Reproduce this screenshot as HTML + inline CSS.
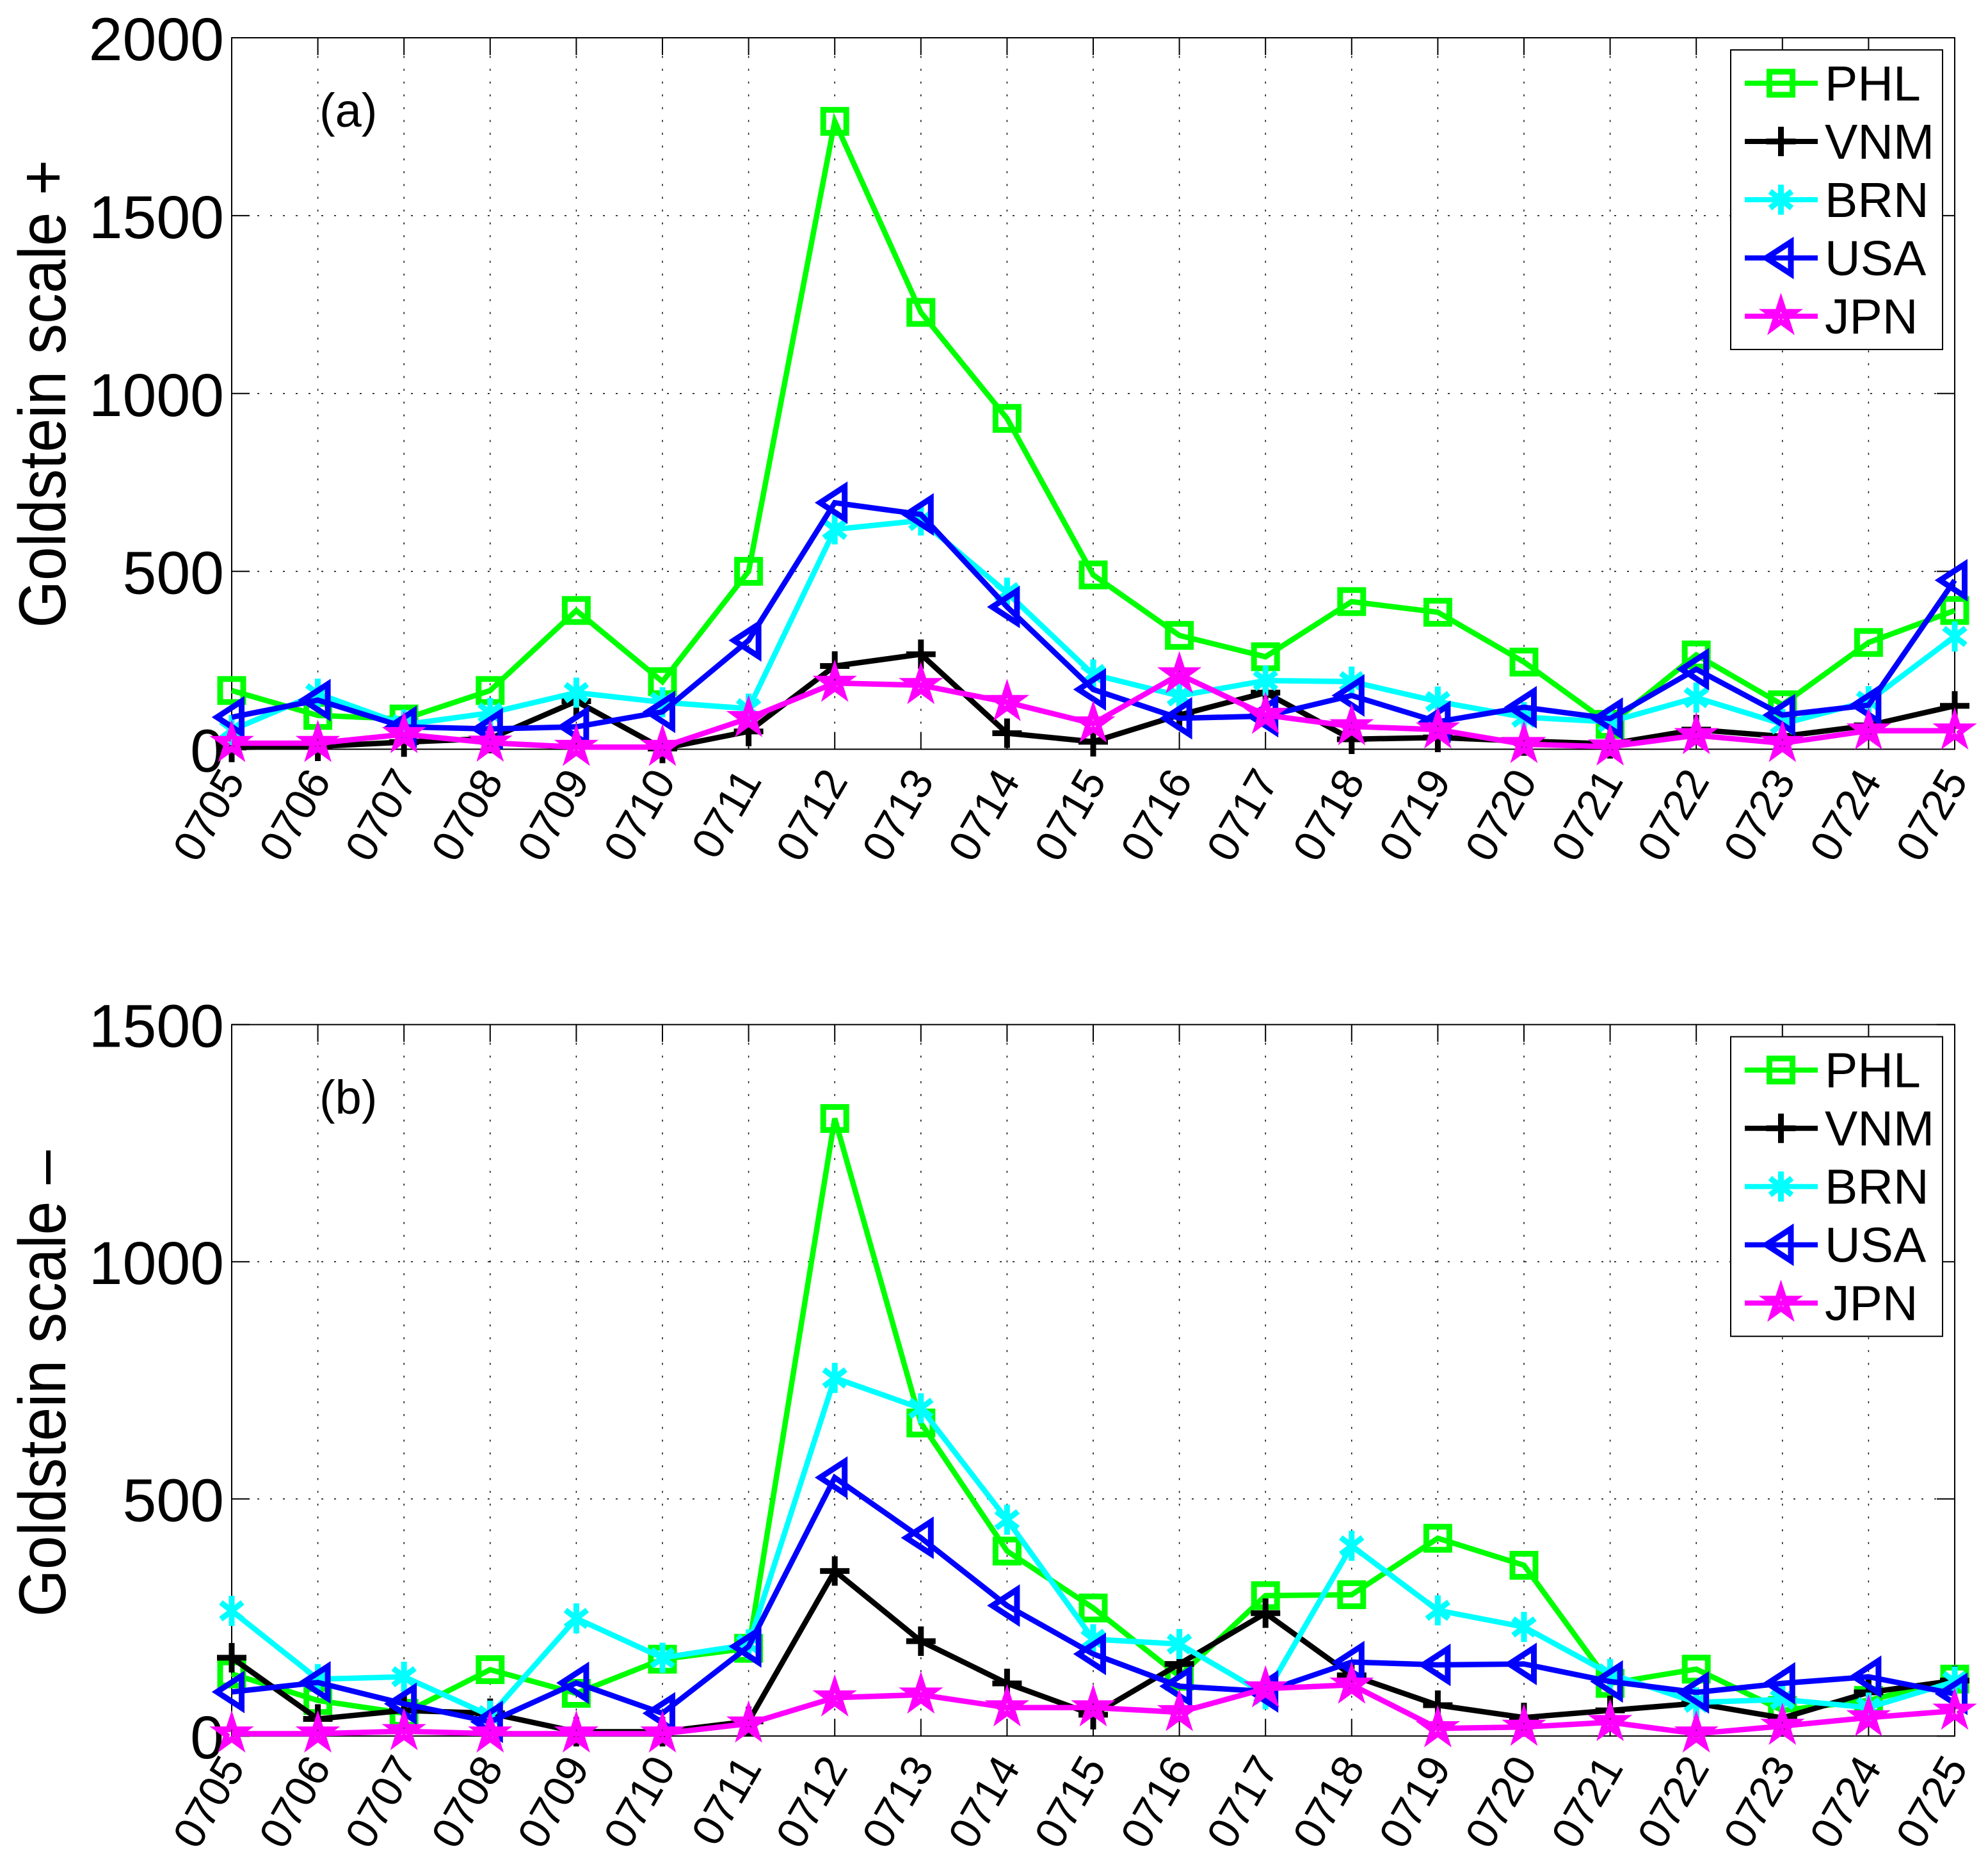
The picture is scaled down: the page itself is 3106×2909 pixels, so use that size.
<!DOCTYPE html>
<html lang="en">
<head>
<meta charset="utf-8">
<title>Goldstein scale by country</title>
<style>
html,body{margin:0;padding:0;background:#fff;}
svg{display:block;}
text{font-family:"Liberation Sans",Arial,sans-serif;fill:#000;}
</style>
</head>
<body>
<svg id="chart" xmlns="http://www.w3.org/2000/svg" width="3106" height="2909" viewBox="0 0 3106 2909">
  <rect x="0" y="0" width="3106" height="2909" fill="#fff"/>
  <g id="panel-a"></g>
  <g id="panel-b"></g>
  <text font-size="95" transform="translate(102,981) rotate(-90) scale(1,1.09)">Goldstein scale +</text>
  <text font-size="95" transform="translate(102,2526) rotate(-90) scale(1,1.09)">Goldstein scale –</text>
  <text font-size="74" x="499" y="198">(a)</text>
  <text font-size="74" x="499" y="1740">(b)</text>
</svg>
<script>
const categories = ['0705','0706','0707','0708','0709','0710','0711','0712','0713','0714','0715','0716','0717','0718','0719','0720','0721','0722','0723','0724','0725'];
const seriesNames = ['PHL','VNM','BRN','USA','JPN'];

const yTicksA = [0,500,1000,1500,2000];
const phlA = [165,95,85,165,390,190,500,1765,1228,930,490,320,260,415,385,245,70,265,125,300,390];
const vnmA = [5,8,20,30,135,2,50,234,267,45,21,96,159,28,33,23,15,55,36,67,122];
const brnA = [54,156,69,102,159,132,114,618,643,440,210,150,193,190,134,90,77,145,71,135,317];
const usaA = [90,138,63,57,63,105,306,693,660,400,168,87,93,151,77,118,86,225,96,124,475];
const jpnA = [17,17,42,18,6,6,87,186,180,132,72,210,96,64,55,14,7,39,17,52,52];

const yTicksB = [0,500,1000,1500];
const phlB = [131,75,48,140,90,162,185,1302,660,390,270,126,296,298,417,360,111,141,54,75,120];
const vnmB = [165,36,54,48,9,9,31,348,200,111,45,152,259,128,65,39,54,69,38,92,117];
const brnB = [264,120,125,43,248,165,193,755,691,456,204,194,88,401,265,230,131,71,77,60,115];
const usaB = [93,113,68,30,112,48,189,545,418,275,173,105,94,156,150,152,115,92,111,125,89];
const jpnB = [5,5,10,5,5,5,26,81,87,60,60,50,100,108,16,19,29,5,21,39,53];

const seriesA = [phlA,vnmA,brnA,usaA,jpnA];
const seriesB = [phlB,vnmB,brnB,usaB,jpnB];

const NS = 'http://www.w3.org/2000/svg';
const colors = {PHL:'#00ff00',VNM:'#000000',BRN:'#00ffff',USA:'#0000ff',JPN:'#ff00ff'};
const LEFT = 362, RIGHT = 3054;

function make(parent, tag, attrs){
  const el = document.createElementNS(NS, tag);
  for (const k in attrs) el.setAttribute(k, attrs[k]);
  parent.appendChild(el);
  return el;
}

function xScale(i){ return LEFT + (RIGHT - LEFT) * i / (categories.length - 1); }

function starPoints(cx, cy){
  const R = 22, r = 8.4, pts = [];
  for (let k = 0; k < 10; k++){
    const a = -Math.PI / 2 + k * Math.PI / 5;
    const q = k % 2 ? r : R;
    pts.push((cx + q * Math.cos(a)).toFixed(1) + ',' + (cy + q * Math.sin(a)).toFixed(1));
  }
  return pts.join(' ');
}

function drawMarker(parent, name, cx, cy){
  const c = colors[name];
  const s = {fill:'none', stroke:c, 'stroke-width':9};
  let m;
  if (name === 'PHL'){
    m = make(parent, 'rect', Object.assign({x:cx-18, y:cy-18, width:36, height:36}, s));
  } else if (name === 'VNM'){
    m = make(parent, 'path', Object.assign({d:`M${cx-23} ${cy}H${cx+23}M${cx} ${cy-23}V${cy+23}`}, s));
  } else if (name === 'BRN'){
    m = make(parent, 'path', Object.assign({d:`M${cx} ${cy-23.5}V${cy+23.5}M${cx-17} ${cy-13}L${cx+17} ${cy+13}M${cx-17} ${cy+13}L${cx+17} ${cy-13}`}, s));
  } else if (name === 'USA'){
    m = make(parent, 'polygon', Object.assign({points:`${cx-23},${cy} ${cx+15.5},${cy-25} ${cx+15.5},${cy+25}`, 'stroke-miterlimit':10}, s));
  } else {
    m = make(parent, 'polygon', Object.assign({points:starPoints(cx, cy), 'stroke-miterlimit':10}, s));
  }
  
  
}

function drawPanel(root, key, top, yTicks, series){
  const bottom = top + 1111.5;
  const yMax = yTicks[yTicks.length - 1];
  const yScale = v => bottom - (bottom - top) * v / yMax;

  const grid = make(root, 'g', {stroke:'#000', 'stroke-width':1.5, 'stroke-dasharray':'3 17', fill:'none'});
  
  
  categories.forEach((c, i) => {
    if (i === 0 || i === categories.length - 1) return;
    const x = xScale(i);
    const gl = make(grid, 'line', {x1:x, x2:x, y1:bottom, y2:top});
    
    
  });
  yTicks.forEach(t => {
    if (t === 0 || t === yMax) return;
    const y = yScale(t);
    const gl = make(grid, 'line', {x1:LEFT, x2:RIGHT, y1:y, y2:y});
    
    
  });

  const axes = make(root, 'g', {stroke:'#000', 'stroke-width':2, fill:'none'});
  
  
  const frame = make(axes, 'rect', {x:LEFT, y:top, width:RIGHT-LEFT, height:bottom-top});
  
  

  categories.forEach((c, i) => {
    const x = xScale(i);
    const t1 = make(axes, 'path', {d:`M${x} ${bottom}v-27M${x} ${top}v27`});
    
    
    const lab = make(root, 'text', {'font-size':68, 'text-anchor':'end', transform:`translate(${x+22},${bottom+49}) rotate(-60)`});
    lab.textContent = c;
    
    
  });
  yTicks.forEach(t => {
    const y = yScale(t);
    const t1 = make(axes, 'path', {d:`M${LEFT} ${y}h28M${RIGHT} ${y}h-28`});
    
    
    const lab = make(root, 'text', {'font-size':95, 'text-anchor':'end', x:350, y:y+35});
    lab.textContent = String(t);
    
    
  });

  series.forEach((vals, si) => {
    const name = seriesNames[si];
    const g = make(root, 'g', {});
    
    
    const pl = make(g, 'polyline', {
      points: vals.map((v, i) => xScale(i).toFixed(1) + ',' + yScale(v).toFixed(1)).join(' '),
      fill:'none', stroke:colors[name], 'stroke-width':8.5, 'stroke-linejoin':'miter'
    });
    
    
    vals.forEach((v, i) => drawMarker(g, name, xScale(i), yScale(v)));
  });

  const legend = make(root, 'g', {});
  
  
  const box = make(legend, 'rect', {x:2704, y:top+19, width:331, height:468, fill:'#fff', stroke:'#000', 'stroke-width':2});
  
  
  seriesNames.forEach((name, i) => {
    const cy = top + 71 + i * 91;
    const row = make(legend, 'g', {});
    
    
    const ln = make(row, 'line', {x1:2726, x2:2840, y1:cy, y2:cy, stroke:colors[name], 'stroke-width':8});
    
    
    drawMarker(row, name, 2782.5, cy);
    const tx = make(row, 'text', {x:2851, y:cy+27, 'font-size':77});
    tx.textContent = name;
    
    
  });
}

drawPanel(document.getElementById('panel-a'), 'a', 59, yTicksA, seriesA);
drawPanel(document.getElementById('panel-b'), 'b', 1600.7, yTicksB, seriesB);
</script>
</body>
</html>
